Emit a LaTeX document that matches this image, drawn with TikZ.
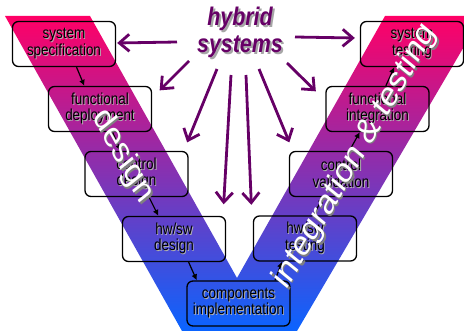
\documentclass[tikz,border=0pt]{standalone}
\usepackage{fontspec}
\setmainfont{Liberation Sans}
\newfontfamily\narrowfont[FakeStretch=0.84]{Liberation Sans}
\usetikzlibrary{arrows.meta,calc}
\definecolor{vpink}{HTML}{FF0066}
\definecolor{vmid}{HTML}{B03CB8}
\definecolor{vblue}{HTML}{0A64FF}
\definecolor{hpurple}{HTML}{660066}
% text with a drop shadow: #1 kern, #2 raise, #3 shadow colour, #4 text
\newcommand\shadowed[4]{\rlap{\kern#1\raisebox{#2}{\color{#3}#4}}#4}
\newcommand\bsh[1]{\shadowed{0.9pt}{-0.9pt}{black!30}{#1}}
\tikzset{
  boxnode/.style={draw=black, line width=1.3pt, rounded corners=6pt, minimum width=103pt, minimum height=45pt, inner sep=0pt, align=center, font=\narrowfont\fontsize{16}{16.6}\selectfont, text=black},
  flowarrow/.style={line width=1.2pt, -{Latex[length=6pt,width=6pt]}},
  hyarrow/.style={draw=hpurple, line width=2.8pt, -{Straight Barb[length=10pt,width=17pt]}},
  hytext/.style={font=\narrowfont\bfseries\itshape\fontsize{25.5}{26.6}\selectfont, align=center, inner sep=0pt, text=hpurple},
  bandtext/.style={text=white, font=\fontsize{35.5}{35.5}\selectfont, inner sep=0pt},
}
\begin{document}
\begin{tikzpicture}[x=1pt,y=-1pt]
\useasboundingbox (0,0) rectangle (464,331);
% V band
\begin{scope}
\clip (0,0) rectangle (464,331);
\shade[top color=vpink, middle color=vmid, bottom color=vblue]
  (5,16) -- (90,16) -- (237,278) -- (385,16) -- (482,16) -- (297,331) -- (182,331) -- cycle;
\end{scope}
% boxes
\node[boxnode] (spec) at (64,44) {\bsh{system}\\\bsh{specification}};
\node[boxnode] (deploy) at (100,109) {\bsh{functional}\\\bsh{deployment}};
\node[boxnode] (control) at (136.5,174) {\bsh{control}\\\bsh{design}};
\node[boxnode] (hwsw) at (174,239) {\bsh{hw/sw}\\\bsh{design}};
\node[boxnode] (comp) at (238.5,303.5) {\bsh{components}\\\bsh{implementation}};
\node[boxnode] (hwtest) at (305,238.5) {\bsh{hw/sw}\\\bsh{testing}};
\node[boxnode] (cval) at (341,174) {\bsh{control}\\\bsh{validation}};
\node[boxnode] (fint) at (377.5,109) {\bsh{functional}\\\bsh{integration}};
\node[boxnode] (systest) at (412,44) {\bsh{system}\\\bsh{testing}};
% flow arrows (design side)
\draw[flowarrow] ($(spec.south west)!0.62!(spec.south east)$) -- ($(deploy.north west)!0.35!(deploy.north east)$);
\draw[flowarrow] ($(deploy.south west)!0.62!(deploy.south east)$) -- ($(control.north west)!0.35!(control.north east)$);
\draw[flowarrow] ($(control.south west)!0.62!(control.south east)$) -- ($(hwsw.north west)!0.35!(hwsw.north east)$);
\draw[flowarrow] ($(hwsw.south west)!0.64!(hwsw.south east)$) -- ($(comp.north west)!0.1!(comp.north east)$);
% flow arrows (integration side)
\draw[flowarrow] ($(comp.north west)!0.85!(comp.north east)$) -- ($(hwtest.south west)!0.28!(hwtest.south east)$);
\draw[flowarrow] ($(hwtest.north west)!0.58!(hwtest.north east)$) -- ($(cval.south west)!0.33!(cval.south east)$);
\draw[flowarrow] ($(cval.north west)!0.58!(cval.north east)$) -- ($(fint.south west)!0.33!(fint.south east)$);
\draw[flowarrow] ($(fint.north west)!0.58!(fint.north east)$) -- ($(systest.south west)!0.33!(systest.south east)$);
% hybrid systems
\node[hytext] (hybrid) at (240,33.5) {\shadowed{2pt}{-2pt}{black!35}{hybrid}\\\shadowed{2pt}{-2pt}{black!35}{systems}};
\draw[hyarrow] ($(hybrid.center)+(-63,8.5)$) -- ($(spec.east)+(1,-1)$);
\draw[hyarrow] ($(hybrid.center)+(-51,27.5)$) -- ($(deploy.north east)+(7.5,4.5)$);
\draw[hyarrow] ($(hybrid.center)+(-23,35.5)$) -- ($(control.north east)+(-1.5,-8.5)$);
\draw[hyarrow] ($(hybrid.center)+(-9,41.5)$) -- ($(hwsw.north east)+(-2.5,-11.5)$);
\draw[hyarrow] ($(hybrid.center)+(6,41.5)$) -- ($(hwtest.north west)+(-1.5,-10.5)$);
\draw[hyarrow] ($(hybrid.center)+(19,35.5)$) -- ($(cval.north west)+(0.5,-8.5)$);
\draw[hyarrow] ($(hybrid.center)+(47,29.5)$) -- ($(fint.north west)+(-9.5,5.5)$);
\draw[hyarrow] ($(hybrid.center)+(55,3.5)$) -- ($(systest.west)+(-5,-6)$);
% band labels
\begin{scope}[shift={(123,156)}]
\node[bandtext, xscale=0.84, rotate=-56.3] (design) at (0,0) {\shadowed{2.4pt}{0.5pt}{black!50}{design}};
\end{scope}
\begin{scope}[shift={(356,157)}]
\node[bandtext, xscale=0.84, rotate=55.4] (integ) at (0,0) {\shadowed{-0.5pt}{-2.4pt}{black!50}{integration \& testing}};
\end{scope}
\end{tikzpicture}
\end{document}
